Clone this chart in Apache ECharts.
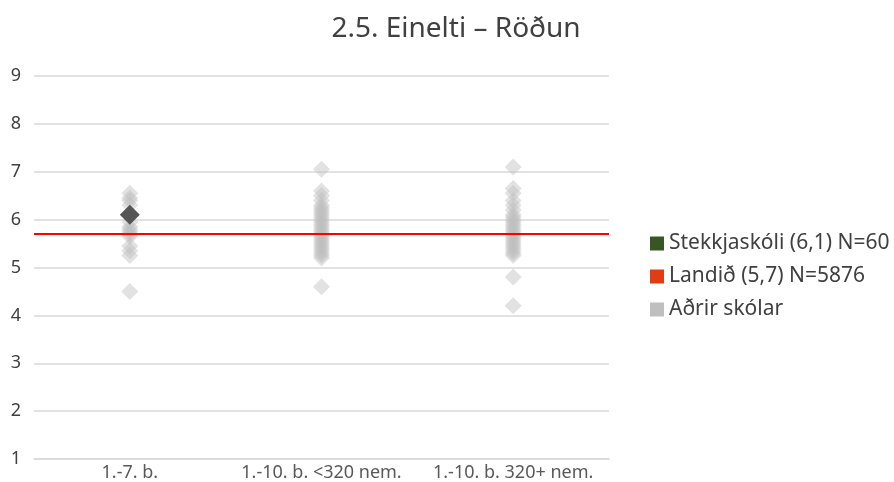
<!DOCTYPE html>
<html><head><meta charset="utf-8">
<script src="https://cdn.jsdelivr.net/npm/echarts@6/dist/echarts.min.js"></script>
<style>html,body{margin:0;padding:0;background:#fff}#c{width:894px;height:482px}</style>
</head><body><div id="c"></div>
<script>
const categories = ['1.-7. b.', '1.-10. b. <320 nem.', '1.-10. b. 320+ nem.'];
const yTicks = [1, 2, 3, 4, 5, 6, 7, 8, 9];
const othersGroup1 = [6.55, 6.45, 6.4, 6.3, 5.95, 5.85, 5.8, 5.75, 5.7, 5.65, 5.45, 5.35, 5.25, 4.5];
const othersGroup2 = [7.05, 6.6, 6.5, 6.4, 6.3, 6.25, 6.2, 6.15, 6.1, 6.05, 6.0, 5.95, 5.9, 5.85, 5.8, 5.75, 5.7, 5.65, 5.6, 5.55, 5.5, 5.45, 5.4, 5.35, 5.3, 5.25, 5.2, 4.6];
const othersGroup3 = [7.1, 6.65, 6.55, 6.4, 6.3, 6.2, 6.1, 6.05, 6.0, 5.95, 5.9, 5.85, 5.8, 5.75, 5.7, 5.65, 5.6, 5.55, 5.5, 5.45, 5.4, 5.35, 5.3, 5.25, 4.8, 4.2];
const schoolName = 'Stekkjaskóli (6,1) N=60';
const schoolCategory = 0;
const schoolValue = 6.1;
const nationalName = 'Landið (5,7) N=5876';
const nationalValue = 5.7;
const othersName = 'Aðrir skólar';

const othersData = [];
[othersGroup1, othersGroup2, othersGroup3].forEach((g, i) => g.forEach(v => othersData.push([i, v])));

const chart = echarts.init(document.getElementById('c'));
const font = '"Noto Sans", sans-serif';
chart.setOption({
  animation: false,
  textStyle: { fontFamily: font },
  title: {
    text: '2.5. Einelti – Röðun', left: 451, top: 10, textAlign: 'center',
    textStyle: { fontSize: 28, fontWeight: 'normal', color: '#404040', fontFamily: font }
  },
  legend: {
    orient: 'vertical', left: 645, top: 228, itemGap: 12, itemWidth: 14, itemHeight: 14,
    icon: 'rect',
    textStyle: { fontSize: 21, color: '#404040', fontFamily: font },
    data: [
      { name: schoolName, itemStyle: { color: '#375623', opacity: 1 } },
      { name: nationalName, itemStyle: { color: '#e03c15', opacity: 1 } },
      { name: othersName, itemStyle: { color: '#bfbfbf', opacity: 1 } }
    ]
  },
  grid: { left: 34, right: 285, top: 76, bottom: 23 },
  xAxis: {
    type: 'category', data: categories, boundaryGap: true,
    axisLine: { lineStyle: { color: '#d9d9d9', width: 1.5 } },
    axisTick: { show: false },
    axisLabel: { color: '#595959', fontSize: 18, margin: 5, interval: 0, hideOverlap: false }
  },
  yAxis: {
    type: 'value', min: 1, max: 9, interval: 1,
    axisLine: { show: false }, axisTick: { show: false },
    axisLabel: { color: '#404040', fontSize: 18, margin: 13 },
    splitLine: { lineStyle: { color: '#d9d9d9', width: 1.5 } }
  },
  series: [
    {
      name: othersName, type: 'scatter', symbol: 'diamond', symbolSize: 17,
      itemStyle: { color: 'rgba(191,191,191,0.45)', opacity: 1 },
      emphasis: { disabled: true },
      data: othersData, z: 2
    },
    {
      name: nationalName, type: 'line', data: [], itemStyle: { color: '#e03c15' },
      markLine: {
        symbol: 'none', silent: true, label: { show: false },
        lineStyle: { color: '#ff0000', width: 2, type: 'solid' },
        data: [{ yAxis: nationalValue }]
      }, z: 3
    },
    {
      name: schoolName, type: 'scatter', symbol: 'diamond', symbolSize: 20,
      itemStyle: { color: '#555555', opacity: 1 },
      emphasis: { disabled: true },
      data: [[schoolCategory, schoolValue]], z: 5
    }
  ]
});
</script></body></html>
